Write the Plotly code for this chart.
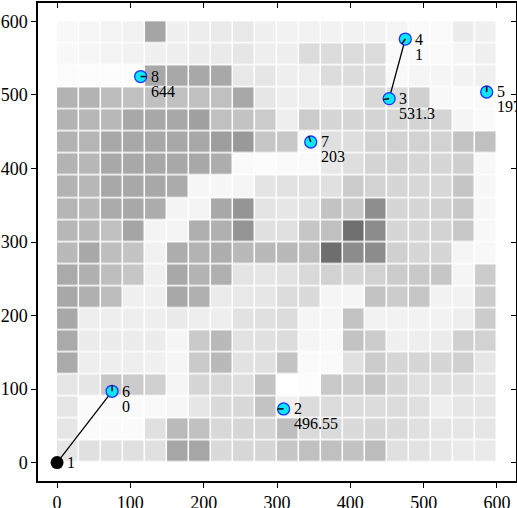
import math
import plotly.graph_objects as go

# ---- grid data (grey level 0-255), rows listed top (y=570-600) to bottom (y=0-30)
col_centers = [15 + 30 * i for i in range(20)]
row_centers = [585 - 30 * i for i in range(20)]
grey_rows = [
    [248, 246, 243, 242, 165, 240, 237, 234, 232, 240, 242, 242, 242, 242, 242, 245, 250, 250, 236, 240],
    [248, 246, 243, 242, 240, 238, 236, 234, 230, 238, 238, 220, 220, 220, 220, 250, 250, 250, 245, 240],
    [252, 252, 252, 252, 168, 168, 168, 168, 232, 230, 238, 238, 220, 220, 220, 248, 245, 245, 242, 240],
    [179, 179, 189, 192, 192, 192, 192, 192, 168, 230, 238, 238, 238, 232, 216, 220, 208, 248, 250, 250],
    [179, 183, 185, 168, 168, 168, 160, 192, 195, 203, 238, 203, 214, 214, 212, 214, 212, 212, 245, 250],
    [179, 181, 168, 168, 168, 168, 168, 158, 153, 198, 200, 248, 224, 222, 210, 210, 210, 210, 195, 192],
    [179, 183, 168, 168, 168, 168, 168, 173, 250, 252, 250, 250, 232, 222, 212, 210, 214, 214, 207, 248],
    [179, 183, 168, 168, 168, 171, 247, 247, 245, 228, 226, 226, 224, 203, 210, 214, 215, 215, 197, 247],
    [181, 185, 170, 168, 172, 244, 244, 168, 149, 228, 230, 226, 195, 200, 142, 214, 214, 209, 199, 247],
    [183, 185, 192, 165, 244, 244, 175, 176, 148, 224, 224, 198, 192, 111, 140, 214, 214, 211, 200, 248],
    [185, 168, 190, 196, 241, 173, 179, 174, 185, 185, 185, 190, 110, 140, 140, 208, 214, 214, 245, 248],
    [170, 176, 190, 198, 240, 168, 179, 176, 228, 230, 226, 217, 210, 214, 210, 204, 201, 198, 245, 204],
    [168, 176, 189, 240, 240, 168, 176, 235, 232, 230, 220, 218, 245, 245, 195, 204, 198, 242, 242, 204],
    [168, 238, 238, 238, 238, 234, 238, 238, 226, 224, 220, 245, 245, 195, 242, 242, 242, 242, 238, 204],
    [170, 236, 236, 236, 236, 245, 202, 185, 226, 224, 220, 245, 248, 195, 204, 240, 238, 235, 208, 210],
    [170, 238, 238, 238, 240, 245, 202, 185, 226, 224, 195, 250, 250, 224, 204, 214, 214, 214, 208, 230],
    [230, 230, 198, 203, 208, 245, 214, 216, 222, 195, 254, 252, 201, 204, 198, 214, 224, 224, 224, 230],
    [230, 251, 251, 250, 249, 246, 230, 218, 216, 195, 240, 220, 220, 220, 220, 220, 224, 238, 230, 230],
    [230, 251, 251, 251, 224, 186, 193, 216, 214, 214, 190, 218, 218, 218, 214, 218, 224, 230, 230, 230],
    [230, 224, 224, 224, 224, 166, 166, 218, 215, 214, 198, 192, 192, 194, 188, 224, 226, 230, 234, 234],
]

# ---- points
point_ids = ["1", "2", "3", "4", "5", "6", "7", "8"]
point_x = [0, 309, 453, 475, 586, 75, 346, 114]
point_y = [0, 73, 495, 576, 504, 97, 436, 525]
point_values = ["", "496.55", "531.3", "1", "197", "0", "203", "644"]
point_heading = [None, 180, 190, 235, 90, 90, 108, 0]
links = [("1", "6"), ("3", "4")]

SERIF = "Liberation Serif"
fig = go.Figure()

fig.add_trace(go.Heatmap(
    x=col_centers, y=row_centers, z=grey_rows,
    zmin=0, zmax=255,
    colorscale=[[0, "rgb(0,0,0)"], [1, "rgb(255,255,255)"]],
    showscale=False, xgap=1.5, ygap=1.5, hoverinfo="skip",
))

idx = {p: i for i, p in enumerate(point_ids)}
for a, b in links:
    ia, ib = idx[a], idx[b]
    fig.add_trace(go.Scatter(
        x=[point_x[ia], point_x[ib]], y=[point_y[ia], point_y[ib]],
        mode="lines", line=dict(color="black", width=1.3),
        showlegend=False, hoverinfo="skip",
    ))

# black start point and cyan others
fig.add_trace(go.Scatter(
    x=[point_x[0]], y=[point_y[0]], mode="markers",
    marker=dict(size=13, color="black", line=dict(width=0)),
    showlegend=False, hoverinfo="skip",
))
fig.add_trace(go.Scatter(
    x=point_x[1:], y=point_y[1:], mode="markers",
    marker=dict(size=12, color="#0de6fa", line=dict(color="#1a33ff", width=1.3)),
    showlegend=False, hoverinfo="skip",
))

# heading strokes
r = 8
hx, hy = [], []
for px, py, h in zip(point_x, point_y, point_heading):
    if h is None:
        continue
    hx += [px, px + r * math.cos(math.radians(h)), None]
    hy += [py, py + r * math.sin(math.radians(h)), None]
fig.add_trace(go.Scatter(
    x=hx, y=hy, mode="lines", line=dict(color="black", width=1.5),
    showlegend=False, hoverinfo="skip",
))

for pid, px, py, val in zip(point_ids, point_x, point_y, point_values):
    fig.add_annotation(x=px, y=py, text=pid, showarrow=False,
                       xanchor="left", yanchor="middle", xshift=8,
                       font=dict(family=SERIF, size=16, color="black"))
    if val:
        fig.add_annotation(x=px, y=py, text=val, showarrow=False,
                           xanchor="left", yanchor="middle", xshift=8, yshift=-15,
                           font=dict(family=SERIF, size=16, color="black"))

xr = [-26, 626]
yr = [-25, 625]
ticks = [0, 100, 200, 300, 400, 500, 600]
axis_common = dict(
    showgrid=False, zeroline=False, showline=True, linecolor="black", linewidth=1.5,
    ticks="outside", ticklen=5, tickwidth=1.3, tickcolor="black", automargin=False,
    tickvals=ticks, ticktext=[str(t) for t in ticks],
    tickfont=dict(family=SERIF, size=18, color="black"),
)
fig.update_layout(
    template="none",
    font=dict(family=SERIF),
    width=517, height=508,
    margin=dict(l=38, r=1, t=3, b=27),
    plot_bgcolor="white", paper_bgcolor="white",
    showlegend=False,
    xaxis=dict(range=xr, mirror=True, **axis_common),
    yaxis=dict(range=yr, mirror=True, **axis_common),
    xaxis2=dict(range=xr, overlaying="x", side="top", anchor="y", showgrid=False, zeroline=False,
                showline=False, ticks="inside", ticklen=5, tickwidth=1.3, tickcolor="black",
                tickvals=ticks, showticklabels=False, automargin=False),
    yaxis2=dict(range=yr, overlaying="y", side="right", anchor="x", showgrid=False, zeroline=False,
                showline=False, ticks="inside", ticklen=5, tickwidth=1.3, tickcolor="black",
                tickvals=ticks, showticklabels=False, automargin=False),
)
# carrier for the mirrored inside-tick axes
fig.add_trace(go.Scatter(x=[None], y=[None], xaxis="x2", yaxis="y2", mode="markers",
                         showlegend=False, hoverinfo="skip"))

fig.write_html("out.html", config={"displayModeBar": False},
               post_script="document.body.style.margin='0';document.body.style.overflow='hidden';")
